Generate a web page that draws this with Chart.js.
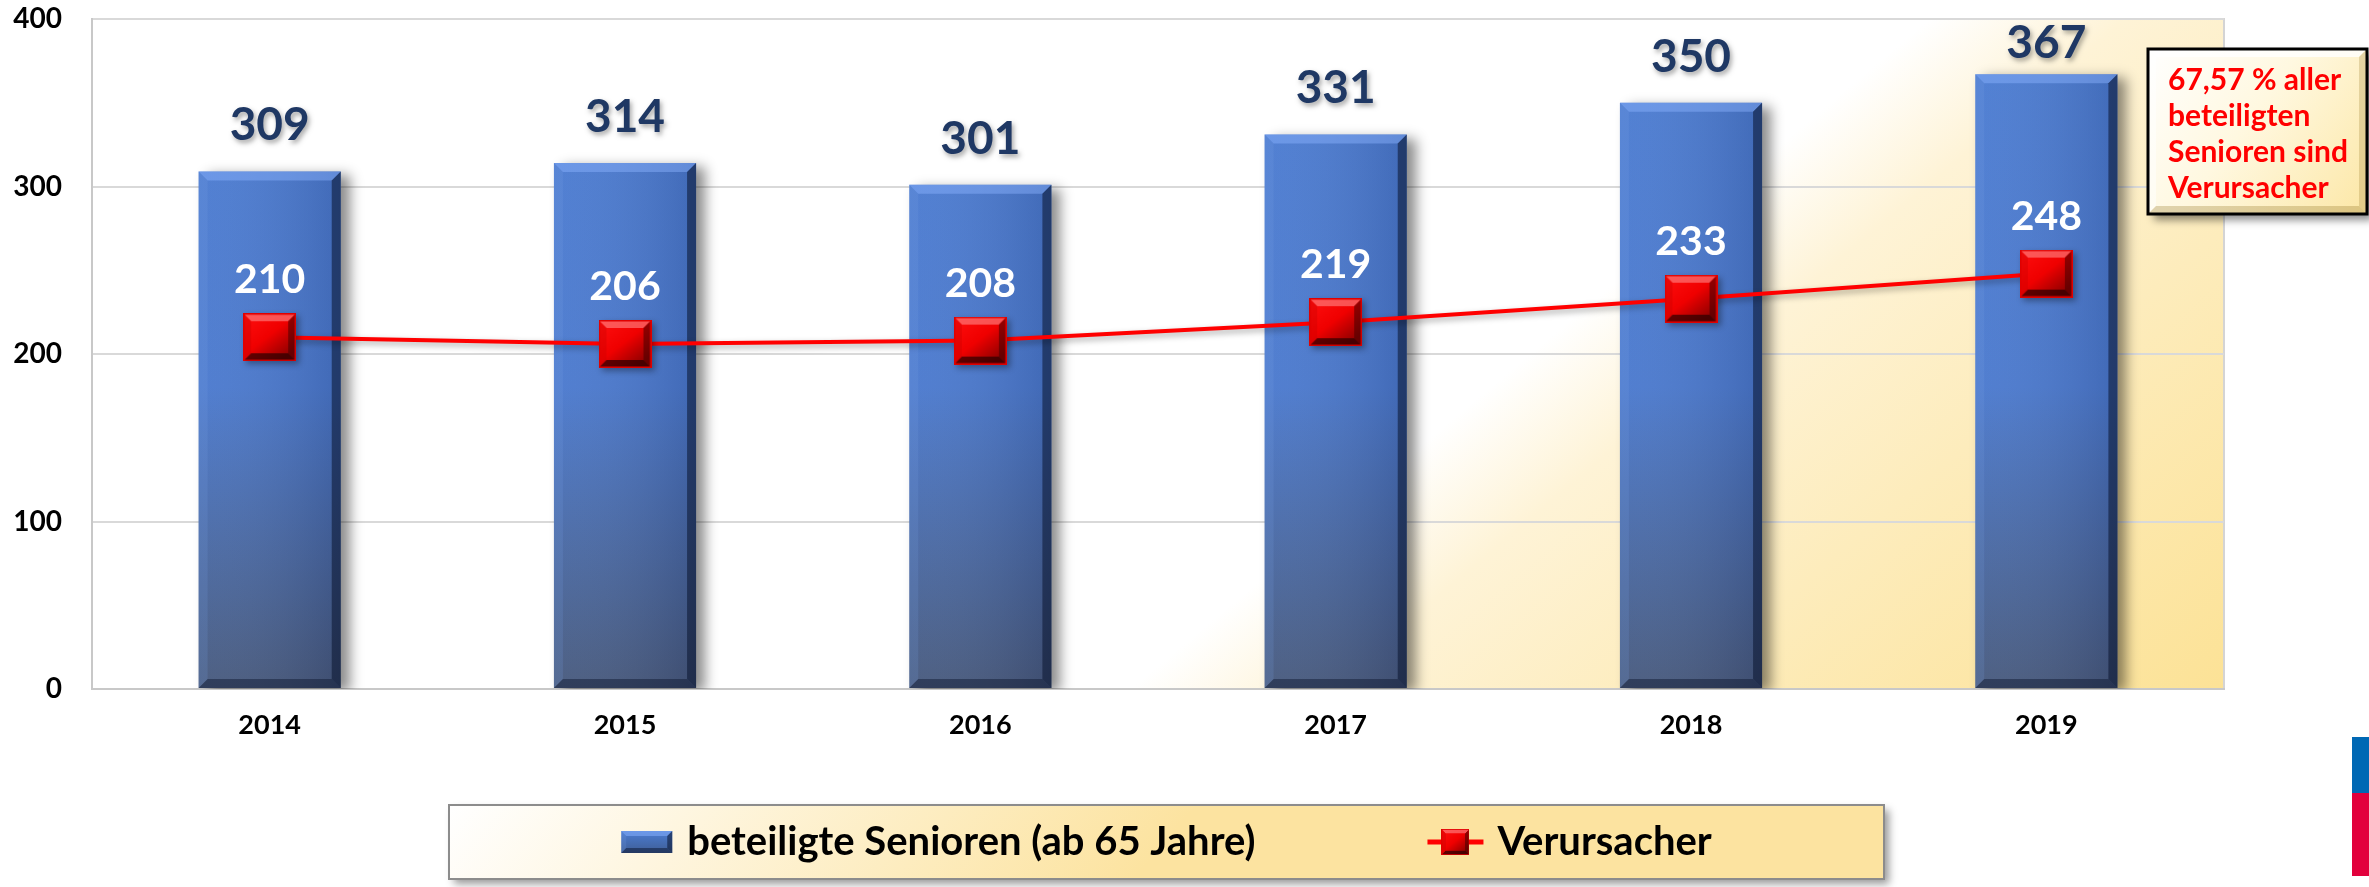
<!DOCTYPE html>
<html>
<head>
<meta charset="utf-8">
<title>Senioren als Unfallbeteiligte und Verursacher</title>
<script src="https://cdn.jsdelivr.net/npm/chart.js@4.4.1/dist/chart.umd.min.js"></script>
<style>
  html, body { margin: 0; padding: 0; background: #fff; }
  #wrap { position: relative; width: 2369px; height: 887px; }
</style>
</head>
<body>
<div id="wrap"><canvas id="chart"></canvas></div>
<script>
const years = ['2014', '2015', '2016', '2017', '2018', '2019'];
const seniors = [309, 314, 301, 331, 350, 367];
const causers = [210, 206, 208, 219, 233, 248];
const yTicks = [0, 100, 200, 300, 400];
const seriesNames = ['beteiligte Senioren (ab 65 Jahre)', 'Verursacher'];
const noteLines = ['67,57 % aller', 'beteiligten', 'Senioren sind', 'Verursacher'];

const FONT = 'Lato, "Open Sans", sans-serif';
Chart.defaults.font.family = FONT;

// boxes that are not data: legend frame, note frame
const legendBox = { x: 449, y: 805, w: 1435, h: 74 };
const noteBox = { x: 2148, y: 49, w: 219, h: 165 };

function poly(g, pts, fill) {
  g.beginPath();
  g.moveTo(pts[0][0], pts[0][1]);
  for (let i = 1; i < pts.length; i++) g.lineTo(pts[i][0], pts[i][1]);
  g.closePath();
  g.fillStyle = fill;
  g.fill();
}

function bevel(g, l, t, w, h, b, light, side, dark, darker) {
  const r = l + w, bt = t + h;
  poly(g, [[l, t], [r, t], [r - b, t + b], [l + b, t + b]], light);
  poly(g, [[l, t], [l + b, t + b], [l + b, bt - b], [l, bt]], side);
  poly(g, [[r, t], [r, bt], [r - b, bt - b], [r - b, t + b]], dark);
  poly(g, [[l, bt], [r, bt], [r - b, bt - b], [l + b, bt - b]], darker);
}

// red beveled square used as point marker
function makeMarker(w, h, b) {
  const c = document.createElement('canvas');
  c.width = w; c.height = h;
  const g = c.getContext('2d');
  const face = g.createLinearGradient(0, 0, w * 0.7, h);
  face.addColorStop(0, '#FF1010');
  face.addColorStop(0.55, '#F00000');
  face.addColorStop(1, '#900000');
  g.fillStyle = face;
  g.fillRect(0, 0, w, h);
  bevel(g, 0, 0, w, h, b, 'rgba(255,150,150,0.55)', 'rgba(200,0,0,0.35)', 'rgba(70,0,0,0.55)', 'rgba(40,0,0,0.7)');
  g.strokeStyle = '#E00000';
  g.lineWidth = 1.5;
  g.strokeRect(0.75, 0.75, w - 1.5, h - 1.5);
  return c;
}

const marker = makeMarker(53, 48, 8);

function barFill(c) {
  const { ctx, chartArea } = c.chart;
  if (!chartArea) return '#4A7BD0';
  const g = ctx.createLinearGradient(0, chartArea.top, 0, chartArea.bottom);
  g.addColorStop(0, '#4B7CD2');
  g.addColorStop(0.55, '#4A79CE');
  g.addColorStop(1, '#47597C');
  return g;
}

function drawBarBevels(ctx, bars) {
  bars.forEach(el => {
    const { x, y, base, width } = el.getProps(['x', 'y', 'base', 'width'], true);
    const l = x - width / 2;
    const side = ctx.createLinearGradient(l, 0, l + width, 0);
    side.addColorStop(0, 'rgba(255,255,255,0.04)');
    side.addColorStop(1, 'rgba(0,0,30,0.14)');
    ctx.fillStyle = side;
    ctx.fillRect(l, y, width, base - y);
    bevel(ctx, l, y, width, base - y, 9, 'rgba(140,180,255,0.45)', 'rgba(120,160,230,0.18)', 'rgba(10,20,45,0.55)', 'rgba(10,20,45,0.45)');
  });
}

const plotBg = {
  id: 'plotBg',
  beforeDraw(chart) {
    const { ctx, chartArea: a, width, height } = chart;
    ctx.save();
    ctx.fillStyle = '#fff';
    ctx.fillRect(0, 0, width, height);
    const g = ctx.createLinearGradient(a.left + 0.487 * a.width, a.bottom, a.left + 0.6985 * a.width, a.bottom + 0.803 * a.height);
    g.addColorStop(0, '#FFFFFF');
    g.addColorStop(0.18, '#FEF3D6');
    g.addColorStop(0.5, '#FDECBC');
    g.addColorStop(1, '#FCE296');
    ctx.fillStyle = g;
    ctx.fillRect(a.left, a.top, a.width, a.height);
    ctx.strokeStyle = '#D4D4D4';
    ctx.lineWidth = 2;
    ctx.strokeRect(a.left, a.top, a.width, a.height);
    ctx.restore();
  }
};

const shadows = {
  id: 'shadows',
  beforeDatasetDraw(chart, args) {
    const ctx = chart.ctx;
    ctx.save();
    if (args.meta.type === 'bar') {
      ctx.shadowColor = 'rgba(0,0,0,0.45)';
      ctx.shadowBlur = 12;
      ctx.shadowOffsetX = 9;
      ctx.shadowOffsetY = 4;
    } else {
      ctx.shadowColor = 'rgba(0,0,0,0.35)';
      ctx.shadowBlur = 6;
      ctx.shadowOffsetX = 3;
      ctx.shadowOffsetY = 3;
    }
  },
  afterDatasetDraw(chart, args) {
    chart.ctx.restore();
    if (args.meta.type === 'bar') drawBarBevels(chart.ctx, args.meta.data);
  }
};

const valueLabels = {
  id: 'valueLabels',
  afterDatasetsDraw(chart) {
    const ctx = chart.ctx;
    const top = chart.chartArea.top;
    const lineMeta = chart.getDatasetMeta(0);
    const barMeta = chart.getDatasetMeta(1);
    ctx.save();
    ctx.textAlign = 'center';
    ctx.textBaseline = 'middle';
    ctx.font = 'bold 46px ' + FONT;
    ctx.fillStyle = '#1F3864';
    ctx.shadowColor = 'rgba(0,0,0,0.35)';
    ctx.shadowBlur = 5;
    ctx.shadowOffsetX = 2;
    ctx.shadowOffsetY = 3;
    // keep the label inside the plot like the original does
    barMeta.data.forEach((el, i) => ctx.fillText(seniors[i], el.x, Math.max(el.y - 46, top + 24)));
    ctx.shadowColor = 'transparent';
    ctx.fillStyle = '#fff';
    ctx.font = 'bold 41px ' + FONT;
    lineMeta.data.forEach((el, i) => ctx.fillText(causers[i], el.x, el.y - 57));
    ctx.restore();
  }
};

const extras = {
  id: 'extras',
  afterDraw(chart) {
    const ctx = chart.ctx;
    ctx.save();

    // note box
    const n = noteBox;
    ctx.shadowColor = 'rgba(0,0,0,0.45)';
    ctx.shadowBlur = 8;
    ctx.shadowOffsetX = 6;
    ctx.shadowOffsetY = 6;
    const ng = ctx.createLinearGradient(n.x, n.y, n.x + n.w, n.y + n.h);
    ng.addColorStop(0, '#FFFFFF');
    ng.addColorStop(0.45, '#FFF8E0');
    ng.addColorStop(1, '#FCE7A6');
    ctx.fillStyle = ng;
    ctx.fillRect(n.x, n.y, n.w, n.h);
    ctx.shadowColor = 'transparent';
    bevel(ctx, n.x, n.y, n.w, n.h, 8, 'rgba(255,255,255,0.8)', 'rgba(255,255,255,0.5)', 'rgba(150,120,40,0.25)', 'rgba(150,120,40,0.3)');
    ctx.strokeStyle = '#000';
    ctx.lineWidth = 3;
    ctx.strokeRect(n.x, n.y, n.w, n.h);
    ctx.fillStyle = '#FF0000';
    ctx.font = 'bold 30px ' + FONT;
    ctx.textAlign = 'left';
    ctx.textBaseline = 'middle';
    noteLines.forEach((t, i) => ctx.fillText(t, n.x + 20, n.y + 31 + i * 36));

    // legend frame
    const L = legendBox;
    ctx.shadowColor = 'rgba(0,0,0,0.4)';
    ctx.shadowBlur = 8;
    ctx.shadowOffsetX = 5;
    ctx.shadowOffsetY = 5;
    const lg = ctx.createLinearGradient(L.x, L.y, L.x + L.w * 0.3, L.y + L.h * 5);
    lg.addColorStop(0, '#FFFFFF');
    lg.addColorStop(1, '#FCE3A0');
    ctx.fillStyle = lg;
    ctx.fillRect(L.x, L.y, L.w, L.h);
    ctx.shadowColor = 'transparent';
    ctx.strokeStyle = '#8C8C8C';
    ctx.lineWidth = 2;
    ctx.strokeRect(L.x, L.y, L.w, L.h);

    // legend items
    ctx.font = 'bold 40px ' + FONT;
    ctx.fillStyle = '#000';
    const t1 = ctx.measureText(seriesNames[0]).width;
    const t2 = ctx.measureText(seriesNames[1]).width;
    const group = 51 + 15 + t1 + 172 + 56 + 14 + t2;
    let x = L.x + (L.w - group) / 2;
    const cy = L.y + L.h / 2;
    const bi = ctx.createLinearGradient(0, cy - 11, 0, cy + 11);
    bi.addColorStop(0, '#4B7CD2');
    bi.addColorStop(1, '#3F5E96');
    ctx.fillStyle = bi;
    ctx.fillRect(x, cy - 11, 51, 22);
    bevel(ctx, x, cy - 11, 51, 22, 5, 'rgba(140,180,255,0.5)', 'rgba(120,160,230,0.2)', 'rgba(10,20,45,0.55)', 'rgba(10,20,45,0.5)');
    x += 51 + 15;
    ctx.fillStyle = '#000';
    ctx.fillText(seriesNames[0], x, cy);
    x += t1 + 172;
    ctx.fillStyle = '#FF0000';
    ctx.fillRect(x, cy - 2.5, 56, 5);
    ctx.drawImage(marker, x + 14, cy - 13, 28, 26);
    x += 56 + 14;
    ctx.fillStyle = '#000';
    ctx.fillText(seriesNames[1], x, cy);

    // corner strip
    ctx.fillStyle = '#0068B4';
    ctx.fillRect(chart.width - 17, 737, 17, 56);
    ctx.fillStyle = '#E2003C';
    ctx.fillRect(chart.width - 17, 793, 17, 83);
    ctx.restore();
  }
};

new Chart(document.getElementById('chart'), {
  type: 'bar',
  data: {
    labels: years,
    datasets: [
      {
        type: 'line',
        label: seriesNames[1],
        data: causers,
        borderColor: '#FF0000',
        borderWidth: 4,
        pointStyle: marker,
        pointRadius: 27,
        tension: 0,
        order: 0
      },
      {
        label: seriesNames[0],
        data: seniors,
        backgroundColor: barFill,
        barPercentage: 0.4,
        categoryPercentage: 1,
        order: 1
      }
    ]
  },
  options: {
    responsive: true,
    maintainAspectRatio: false,
    animation: false,
    layout: { autoPadding: false, padding: { top: 19, right: 145, bottom: 143, left: 10 } },
    plugins: {
      legend: { display: false },
      tooltip: { enabled: false }
    },
    scales: {
      x: {
        grid: { display: false, drawTicks: false },
        border: { display: true, color: '#C8C8C8', width: 2 },
        ticks: { color: '#000', font: { size: 27, weight: 'bold' }, padding: 20 },
        afterFit: s => { s.height = 55; }
      },
      y: {
        min: yTicks[0],
        max: yTicks[yTicks.length - 1],
        afterBuildTicks: axis => { axis.ticks = yTicks.map(v => ({ value: v })); },
        grid: { color: '#D9D9D9', lineWidth: 2, drawTicks: false },
        border: { display: true, color: '#C8C8C8', width: 2 },
        ticks: { color: '#000', font: { size: 28, weight: 'bold' }, padding: 30 },
        afterFit: s => { s.width = 82; s.paddingTop = 0; s.paddingBottom = 0; }
      }
    }
  },
  plugins: [plotBg, shadows, valueLabels, extras]
});
</script>
</body>
</html>
